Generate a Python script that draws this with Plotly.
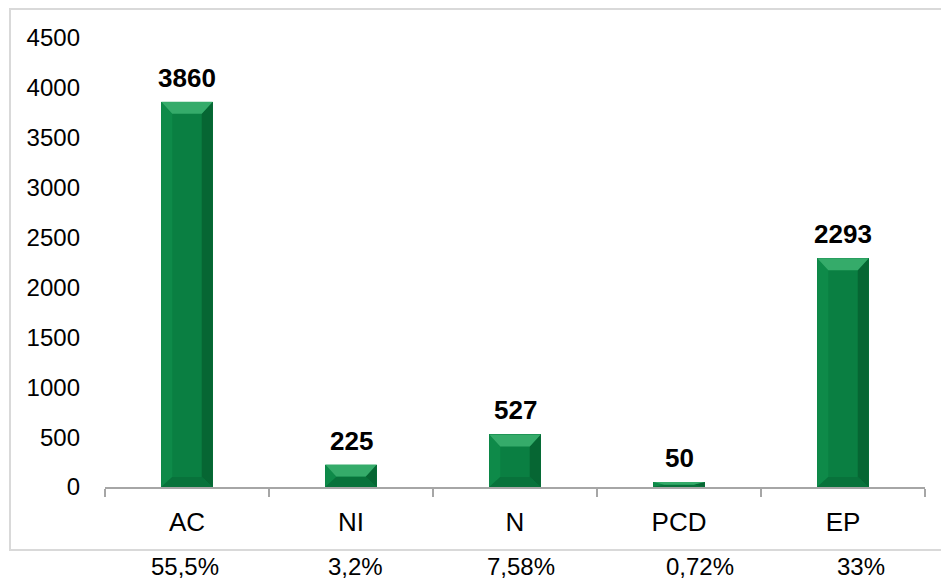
import plotly.graph_objects as go

categories = ["AC", "NI", "N", "PCD", "EP"]
values = [3860, 225, 527, 50, 2293]
percent_labels = ["55,5%", "3,2%", "7,58%", "0,72%", "33%"]
percent_shift = [-2, 4, 6, 21, 18]
y_ticks = [0, 500, 1000, 1500, 2000, 2500, 3000, 3500, 4000, 4500]

W, H = 941, 582
L, R, T, B = 105, 16, 38, 95
plot_w = W - L - R
plot_h = H - T - B
YMAX = 4500

FACE = "#0a7f42"
TOP = "#35ab6a"
LEFT = "#0e8a49"
RIGHT = "#066633"
BOTTOM = "#08723b"

half = 0.157
bx = 11 / (plot_w / 5)          # side bevel width in x units
by_top = 12 * YMAX / plot_h      # top bevel depth in data units
by_bot = 10 * YMAX / plot_h

xs = list(range(len(categories)))

fig = go.Figure()
fig.add_trace(go.Bar(x=xs, y=values, width=2 * half, marker=dict(color=FACE, line=dict(width=0)),
                     hoverinfo="skip", showlegend=False))

def poly_trace(pts_list, color):
    px, py = [], []
    for pts in pts_list:
        for (a, b) in pts:
            px.append(a); py.append(b)
        px.append(pts[0][0]); py.append(pts[0][1])
        px.append(None); py.append(None)
    return go.Scatter(x=px, y=py, mode="lines", fill="toself", fillcolor=color,
                      line=dict(width=0), hoverinfo="skip", showlegend=False)

tops, bots, lefts, rights = [], [], [], []
for i, v in zip(xs, values):
    t = min(by_top, v * 0.53)
    b = min(by_bot, v * 0.47)
    x0, x1 = i - half, i + half
    tops.append([(x0, v), (x1, v), (x1 - bx, v - t), (x0 + bx, v - t)])
    bots.append([(x0, 0), (x1, 0), (x1 - bx, b), (x0 + bx, b)])
    lefts.append([(x0, 0), (x0, v), (x0 + bx, v - t), (x0 + bx, b)])
    rights.append([(x1, 0), (x1, v), (x1 - bx, v - t), (x1 - bx, b)])

fig.add_trace(poly_trace(lefts, LEFT))
fig.add_trace(poly_trace(rights, RIGHT))
fig.add_trace(poly_trace(bots, BOTTOM))
fig.add_trace(poly_trace(tops, TOP))

font_family = "Liberation Sans, Arial, sans-serif"

for i, v in zip(xs, values):
    fig.add_annotation(x=i, y=v, text=f"<b>{v}</b>", showarrow=False, yanchor="bottom",
                       yshift=7, font=dict(size=26, color="#000000", family=font_family))

for i, (p, s) in enumerate(zip(percent_labels, percent_shift)):
    fig.add_annotation(x=i, xref="x", y=-(566 - (H - B)) / plot_h, yref="paper", text=p,
                       showarrow=False, xshift=s, yanchor="middle", borderpad=0,
                       font=dict(size=24, color="#000000", family=font_family))

# outer chart border
fig.add_shape(type="rect", xref="paper", yref="paper",
              x0=(10 - L) / plot_w, x1=(W + 5 - L) / plot_w,
              y0=-(550 - (H - B)) / plot_h, y1=((H - B) - 9) / plot_h,
              line=dict(color="#d9d9d9", width=2), fillcolor="rgba(0,0,0,0)", layer="below")

fig.update_layout(
    width=W, height=H,
    margin=dict(l=L, r=R, t=T, b=B),
    paper_bgcolor="white", plot_bgcolor="white",
    font=dict(family=font_family, size=20, color="#000000"),
    bargap=0,
    xaxis=dict(range=[-0.5, 4.5], tickmode="array", tickvals=xs, ticktext=categories,
               ticks="", showgrid=False, zeroline=False, showline=True,
               linecolor="#a6a6a6", linewidth=1.5, tickfont=dict(size=26),
               ticklabelstandoff=11,
               minor=dict(tick0=-0.5, dtick=1, ticks="outside", ticklen=8, tickcolor="#a6a6a6",
                          tickwidth=1.5, showgrid=False),
               fixedrange=True),
    yaxis=dict(range=[0, YMAX], tickmode="array", tickvals=y_ticks, showgrid=False,
               zeroline=False, showline=False, ticks="", ticklabelstandoff=24,
               tickfont=dict(size=24), fixedrange=True),
    showlegend=False,
)

fig.write_html("out.html", config={"displayModeBar": False},
               post_script="document.body.style.margin='0';")
